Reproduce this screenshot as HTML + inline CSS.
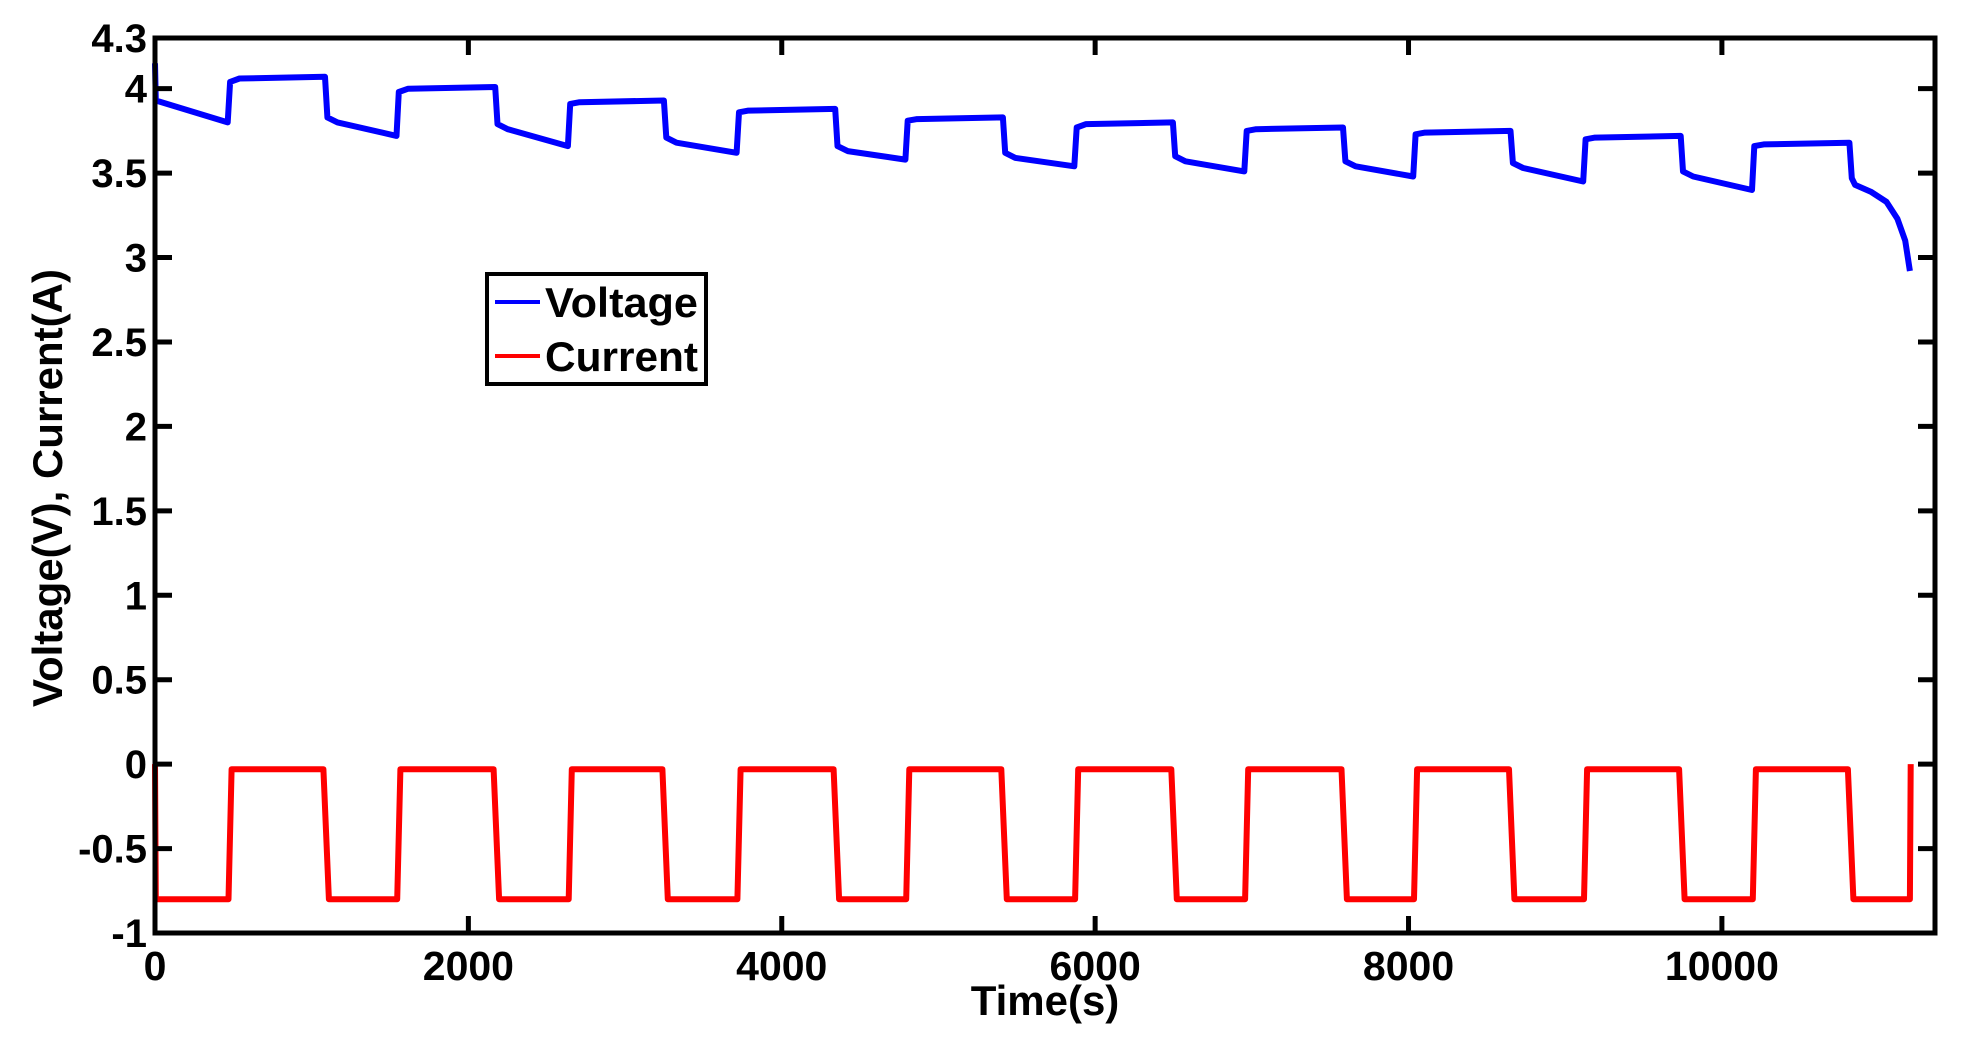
<!DOCTYPE html>
<html><head><meta charset="utf-8"><style>
body{margin:0;background:#fff;}
svg{display:block;font-family:"Liberation Sans",Arial,sans-serif;font-weight:bold;}
</style></head><body>
<svg id="chart" width="1962" height="1041" xmlns="http://www.w3.org/2000/svg">
<rect width="1962" height="1041" fill="#fff"/>
<g id="plot"></g>
<g id="axes"></g>
<text x="1045" y="1015" font-size="42" text-anchor="middle">Time(s)</text>
<text transform="translate(62,488) rotate(-90)" font-size="42" text-anchor="middle">Voltage(V), Current(A)</text>
<g>
<rect x="487" y="274" width="219" height="110" fill="#fff" stroke="#000" stroke-width="4"/>
<line x1="495" y1="302" x2="540" y2="302" stroke="#0000ff" stroke-width="4"/>
<text x="545" y="317" font-size="42" textLength="153" lengthAdjust="spacingAndGlyphs">Voltage</text>
<line x1="495" y1="356" x2="540" y2="356" stroke="#ff0000" stroke-width="4"/>
<text x="545" y="371" font-size="42" textLength="153" lengthAdjust="spacingAndGlyphs">Current</text>
</g>
</svg>
<script>
const restStart=[479,1556,2650,3727,4804,5882,6967,8045,9130,10207];
const restEnd=[1085,2171,3248,4341,5411,6496,7582,8651,9737,10814];
const restV0=[4.04,3.98,3.91,3.86,3.81,3.77,3.75,3.73,3.70,3.66];
const restV1=[4.07,4.01,3.93,3.88,3.83,3.80,3.77,3.75,3.72,3.68];
const dischV0=[3.93,3.80,3.76,3.68,3.63,3.59,3.57,3.54,3.53,3.48];
const dischV1=[3.80,3.72,3.66,3.62,3.58,3.54,3.51,3.48,3.45,3.40];
const tailT=[10814,10850,10950,11050,11120,11170,11200];
const tailV=[3.47,3.43,3.39,3.33,3.23,3.10,2.92];
const currentDisch=-0.8, currentRest=-0.03;
const endT=11200;
const xTicks=[0,2000,4000,6000,8000,10000];
const yTicks=[-1,-0.5,0,0.5,1,1.5,2,2.5,3,3.5,4,4.3];
const yTickLabels=["-1","-0.5","0","0.5","1","1.5","2","2.5","3","3.5","4","4.3"];

const X0=155,X1=1935,Y0=933,Y1=38,XMAX=11360,YMIN=-1,YMAX=4.3;
const sx=t=>X0+(t/XMAX)*(X1-X0);
const sy=v=>Y0-(v-YMIN)/(YMAX-YMIN)*(Y0-Y1);
const NS="http://www.w3.org/2000/svg";
const plot=document.getElementById('plot'),axes=document.getElementById('axes');
function mk(tag,attrs,parent){const e=document.createElementNS(NS,tag);for(const k in attrs)e.setAttribute(k,attrs[k]);parent.appendChild(e);return e;}

let vp=[[0,4.15],[5,dischV0[0]]];
for(let i=0;i<restStart.length;i++){
  vp.push([restStart[i]-15,dischV1[i]]);
  vp.push([restStart[i],restV0[i]]);
  vp.push([restStart[i]+60,restV1[i]-0.01]);
  vp.push([restEnd[i],restV1[i]]);
  if(i+1<dischV0.length){
    vp.push([restEnd[i]+15,dischV0[i+1]+0.03]);
    vp.push([restEnd[i]+80,dischV0[i+1]]);
  }
}
for(let j=0;j<tailT.length;j++)vp.push([tailT[j]+(j==0?15:0),tailV[j]]);
const vl=mk('polyline',{points:vp.map(p=>sx(p[0]).toFixed(1)+','+sy(p[1]).toFixed(1)).join(' '),fill:'none',stroke:'#0000ff','stroke-width':6,'stroke-linejoin':'round'},plot);



let cp=[[0,0],[5,currentDisch]];
for(let i=0;i<restStart.length;i++){
  cp.push([restStart[i]-10,currentDisch]);cp.push([restStart[i]+10,currentRest]);
  cp.push([restEnd[i]-10,currentRest]);cp.push([restEnd[i]+25,currentDisch]);
}
cp.push([endT,currentDisch]);cp.push([endT+5,0]);
const cl=mk('polyline',{points:cp.map(p=>sx(p[0]).toFixed(1)+','+sy(p[1]).toFixed(1)).join(' '),fill:'none',stroke:'#ff0000','stroke-width':6,'stroke-linejoin':'round'},plot);



const box=mk('rect',{x:X0,y:Y1,width:X1-X0,height:Y0-Y1,fill:'none',stroke:'#000','stroke-width':5},axes);


xTicks.forEach(t=>{
  const x=sx(t);
  mk('line',{x1:x,y1:Y0,x2:x,y2:Y0-17,stroke:'#000','stroke-width':5},axes);
  mk('line',{x1:x,y1:Y1,x2:x,y2:Y1+17,stroke:'#000','stroke-width':5},axes);
  const tx=mk('text',{x:x,y:980,'font-size':41,'text-anchor':'middle'},axes);
  tx.textContent=String(t);
  
  
});
yTicks.forEach((v,i)=>{
  const y=sy(v);
  if(v>YMIN&&v<YMAX){
    mk('line',{x1:X0,y1:y,x2:X0+17,y2:y,stroke:'#000','stroke-width':5},axes);
    mk('line',{x1:X1,y1:y,x2:X1-17,y2:y,stroke:'#000','stroke-width':5},axes);
  }
  const tx=mk('text',{x:X0-8,y:y+14,'font-size':40,'text-anchor':'end'},axes);
  tx.textContent=yTickLabels[i];
  
  
});
</script>
</body></html>
